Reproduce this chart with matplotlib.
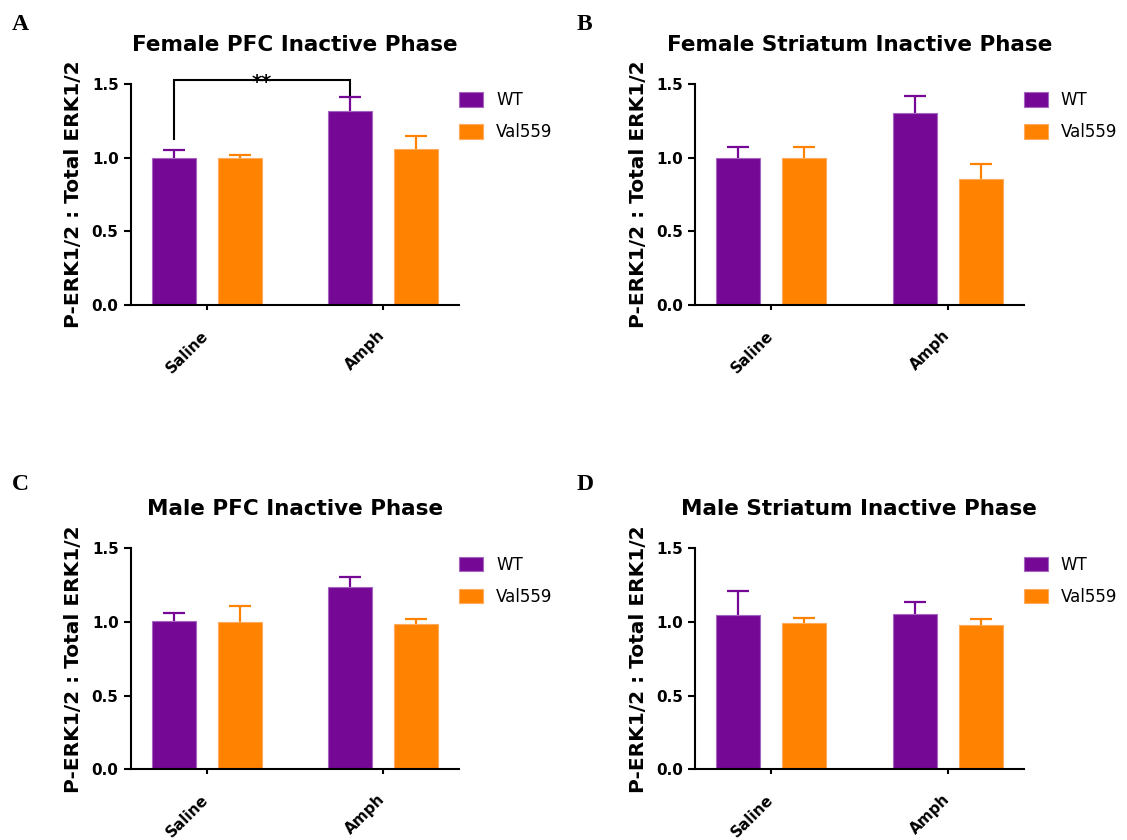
import numpy as np
import matplotlib
matplotlib.use("Agg")
import matplotlib.pyplot as plt
from matplotlib.patches import Patch
from matplotlib.transforms import ScaledTranslation

# ---- data -------------------------------------------------------------
treatments = ["Saline", "Amph"]
genotypes = ["WT", "Val559"]
panel_letters = ["A", "B", "C", "D"]
panel_titles = [
    "Female PFC Inactive Phase",
    "Female Striatum Inactive Phase",
    "Male PFC Inactive Phase",
    "Male Striatum Inactive Phase",
]
y_label = "P-ERK1/2 : Total ERK1/2"
y_ticks = [0.0, 0.5, 1.0, 1.5]

# mean ratio per treatment (Saline, Amph)
wt_mean = {
    "A": [1.00, 1.32],
    "B": [1.00, 1.30],
    "C": [1.005, 1.235],
    "D": [1.045, 1.057],
}
wt_sem = {
    "A": [0.05, 0.09],
    "B": [0.07, 0.12],
    "C": [0.058, 0.068],
    "D": [0.165, 0.081],
}
val_mean = {
    "A": [1.00, 1.06],
    "B": [1.00, 0.855],
    "C": [1.00, 0.984],
    "D": [0.993, 0.982],
}
val_sem = {
    "A": [0.015, 0.09],
    "B": [0.075, 0.10],
    "C": [0.11, 0.036],
    "D": [0.034, 0.038],
}

# WT Saline vs WT Amph comparison in the female PFC
sig_label = "**"
sig_bar_y = 1.53
sig_left_bottom = 1.13
sig_right_bottom = 1.425

# ---- style ------------------------------------------------------------
purple = "#760896"
purple_edge = "#a566bf"
orange = "#ff8200"
orange_edge = "#ffab5c"
font = "DejaVu Sans"

W, H = 1127, 840
fig = plt.figure(figsize=(W / 100, H / 100), dpi=100)

# axes placement in pixels: (spine x, baseline y)
ax_px = {"A": (130.7, 305.0), "B": (695.0, 305.0),
         "C": (130.7, 769.3), "D": (695.0, 769.3)}
ax_w, ax_h = 328.6, 221.0
letter_px = {"A": (12, 30), "B": (577, 30), "C": (12, 490), "D": (577, 490)}

x = np.arange(len(treatments))
offset = 0.187
bar_w = 0.249


def upper_errorbar(ax, xpos, mean, sem, color):
    """Mean + SEM whisker drawn upward only, with a cap on top."""
    zeros = np.zeros(len(xpos))
    _, caps, _ = ax.errorbar(xpos, mean, yerr=[zeros, sem], fmt="none",
                             ecolor=color, elinewidth=1.6, capsize=7.8,
                             capthick=1.6, zorder=1.5)
    caps[0].set_visible(False)


for letter, title in zip(panel_letters, panel_titles):
    px, py = ax_px[letter]
    ax = fig.add_axes([px / W, (H - py) / H, ax_w / W, ax_h / H])

    ax.bar(x - offset, wt_mean[letter], width=bar_w, color=purple,
           edgecolor=purple_edge, linewidth=0.8, zorder=2)
    ax.bar(x + offset, val_mean[letter], width=bar_w, color=orange,
           edgecolor=orange_edge, linewidth=0.8, zorder=2)
    upper_errorbar(ax, x - offset, wt_mean[letter], wt_sem[letter], purple)
    upper_errorbar(ax, x + offset, val_mean[letter], val_sem[letter], orange)

    ax.set_xlim(-0.43, 1.43)
    ax.set_ylim(0, 1.5)
    ax.set_yticks(y_ticks)
    ax.set_yticklabels([f"{t:.1f}" for t in y_ticks])
    ax.set_xticks(x)
    ax.set_xticklabels(treatments, rotation=45, ha="right", va="top")

    for side in ("top", "right"):
        ax.spines[side].set_visible(False)
    for side in ("left", "bottom"):
        ax.spines[side].set_linewidth(1.5)
    ax.spines["left"].set_bounds(0, 1.5)

    ax.tick_params(axis="y", direction="out", length=4.7, width=1.5, pad=4,
                   labelsize=11)
    ax.tick_params(axis="x", direction="out", length=3.8, width=1.5,
                   pad=12.5, labelsize=11)
    for lab in ax.get_yticklabels() + ax.get_xticklabels():
        lab.set_fontfamily(font)
        lab.set_fontweight("bold")
    for lab in ax.get_xticklabels():
        lab.set_transform(lab.get_transform()
                          + ScaledTranslation(5 / 100, 0, fig.dpi_scale_trans))

    ax.set_ylabel(y_label, fontsize=14.5, fontweight="bold", family=font,
                  labelpad=6)
    ax.set_title(title, fontsize=15.5, fontweight="bold", family=font, pad=24)

    handles = [Patch(facecolor=purple, edgecolor=purple_edge, linewidth=0.8),
               Patch(facecolor=orange, edgecolor=orange_edge, linewidth=0.8)]
    ax.legend(handles, genotypes, loc="upper left", bbox_to_anchor=(1.0, 0.967),
              frameon=False, prop={"family": font, "size": 12},
              handlelength=1.44, handleheight=0.96, handletextpad=0.78,
              labelspacing=0.85, borderpad=0, borderaxespad=0)

    lx, ly = letter_px[letter]
    fig.text(lx / W, (H - ly) / H, letter, family="Liberation Serif",
             fontweight="bold", fontsize=17, va="baseline", ha="left")

    if letter == "A":
        x0, x1 = x[0] - offset, x[1] - offset
        ax.plot([x0, x0, x1, x1],
                [sig_left_bottom, sig_bar_y, sig_bar_y, sig_right_bottom],
                color="black", linewidth=1.5, clip_on=False, zorder=3,
                solid_joinstyle="miter")
        ax.text((x0 + x1) / 2, sig_bar_y - 0.055, sig_label, ha="center",
                va="baseline", fontsize=14, fontweight="bold", family=font,
                clip_on=False)

fig.savefig("out.png", dpi=100)
